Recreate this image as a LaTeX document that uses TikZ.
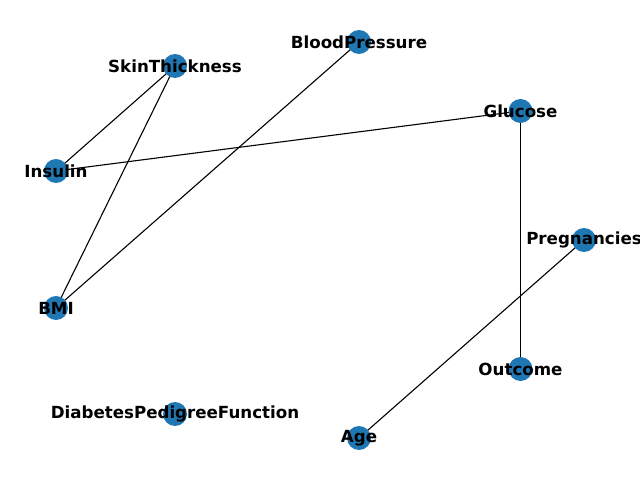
\documentclass[tikz,border=0pt]{standalone}
\usepackage{fontspec}
\setmainfont{DejaVu Sans}
\definecolor{nodeblue}{HTML}{1F77B4}
\begin{document}
\begin{tikzpicture}[x=1pt,y=1pt,
  vert/.style={circle,fill=nodeblue,draw=none,minimum size=24pt,inner sep=0pt},
  lab/.style={font=\fontsize{16.67}{20}\selectfont\bfseries,inner sep=0pt,text=black},
  edge/.style={draw=black,line width=1.1pt}]
\useasboundingbox (0,0) rectangle (640,480);
\coordinate (BP) at (359,438);
\coordinate (ST) at (175,414);
\coordinate (GL) at (520.5,369);
\coordinate (IN) at (56,309);
\coordinate (PR) at (584,240);
\coordinate (BMI) at (56,172);
\coordinate (OU) at (520.5,111);
\coordinate (DPF) at (175,66);
\coordinate (AG) at (359,42);
\draw[edge] (ST) -- (IN);
\draw[edge] (ST) -- (BMI);
\draw[edge] (BP) -- (BMI);
\draw[edge] (GL) -- (IN);
\draw[edge] (GL) -- (OU);
\draw[edge] (PR) -- (AG);
\foreach \n in {BP,ST,GL,IN,PR,BMI,OU,DPF,AG} {\node[vert] (v\n) at (\n) {};}
\node[lab] (lBP) at (BP) {BloodPressure};
\node[lab] (lST) at (ST) {SkinThickness};
\node[lab] (lGL) at (GL) {Glucose};
\node[lab] (lIN) at (IN) {Insulin};
\node[lab] (lPR) at (PR) {Pregnancies};
\node[lab] (lBMI) at (BMI) {BMI};
\node[lab] (lOU) at (OU) {Outcome};
\node[lab] (lDPF) at (DPF) {DiabetesPedigreeFunction};
\node[lab] (lAG) at (AG) {Age};
\end{tikzpicture}
\end{document}
